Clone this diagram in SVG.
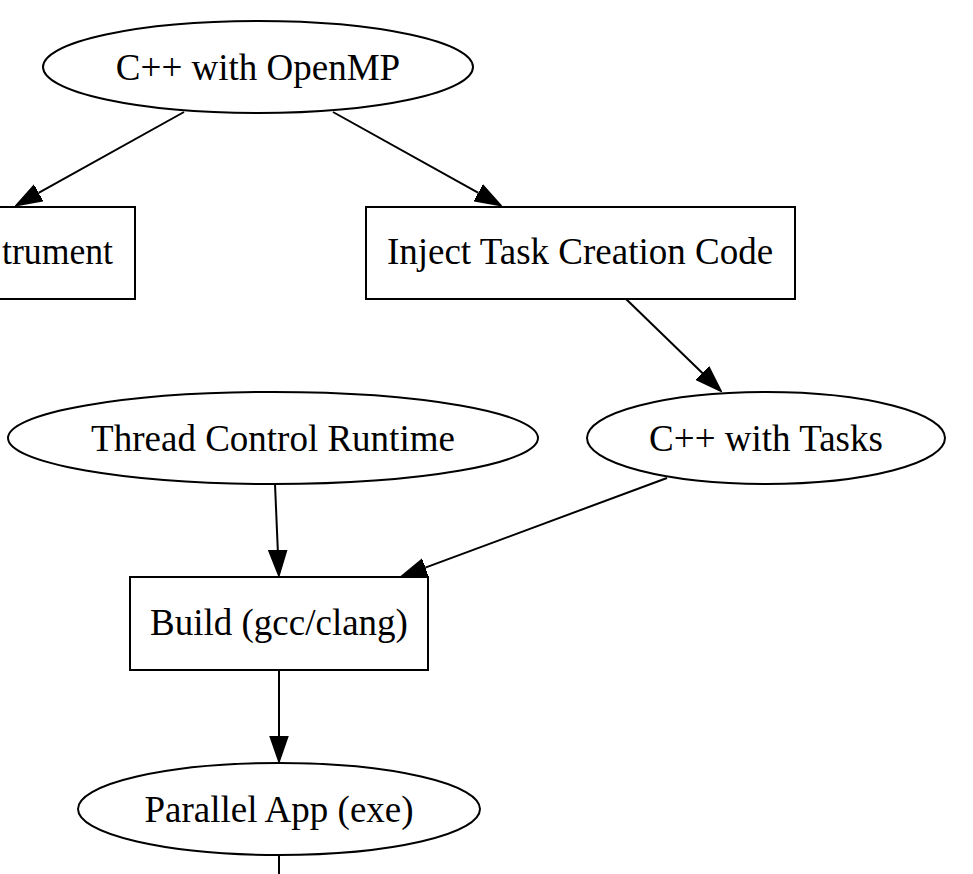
<svg xmlns="http://www.w3.org/2000/svg" width="973" height="874" viewBox="0 0 973 874">
<style>
.node ellipse, .node rect { fill: #ffffff; stroke: #000000; stroke-width: 2; }
.node text { font-family: "Liberation Serif", "Times New Roman", serif; font-size: 37px; fill: #000000; text-anchor: middle; }
.edge path { fill: none; stroke: #000000; stroke-width: 2; }
</style>
<defs>
<marker id="arrow" viewBox="0 0 27 20" refX="0" refY="10" markerWidth="27" markerHeight="20" orient="auto" markerUnits="userSpaceOnUse">
<path d="M0,1 L26,10 L0,19 z" fill="#000000" stroke="#000000" stroke-width="1.5"/>
</marker>
</defs>
<rect width="973" height="874" fill="#ffffff"/>
<g id="edges" class="edge">
<path d="M184,112 L38.6,192.9" marker-end="url(#arrow)"/>
<path d="M333,112 L478.4,192.9" marker-end="url(#arrow)"/>
<path d="M626,299 L702.6,373.2" marker-end="url(#arrow)"/>
<path d="M275,484 L277.8,550" marker-end="url(#arrow)"/>
<path d="M667,478 L425.3,567.6" marker-end="url(#arrow)"/>
<path d="M279,670 L279,736" marker-end="url(#arrow)"/>
<path d="M279,855 L279,874"/>
</g>
<g id="openmp" class="node">
<ellipse cx="258" cy="67" rx="215" ry="46"/>
<text x="258" y="80">C++ with OpenMP</text>
</g>
<g id="instrument" class="node">
<rect x="-160" y="207" width="295" height="92"/>
<text x="2" y="264" style="text-anchor:start" textLength="111" lengthAdjust="spacingAndGlyphs">trument</text>
</g>
<g id="inject" class="node">
<rect x="366" y="207" width="429" height="92"/>
<text x="580" y="264">Inject Task Creation Code</text>
</g>
<g id="runtime" class="node">
<ellipse cx="273" cy="438" rx="265" ry="46"/>
<text x="273" y="451">Thread Control Runtime</text>
</g>
<g id="tasks" class="node">
<ellipse cx="766" cy="438" rx="179" ry="46"/>
<text x="766" y="451">C++ with Tasks</text>
</g>
<g id="build" class="node">
<rect x="130" y="577" width="298" height="93"/>
<text x="279" y="635">Build (gcc/clang)</text>
</g>
<g id="app" class="node">
<ellipse cx="279" cy="809" rx="201" ry="46"/>
<text x="279" y="822">Parallel App (exe)</text>
</g>
</svg>
